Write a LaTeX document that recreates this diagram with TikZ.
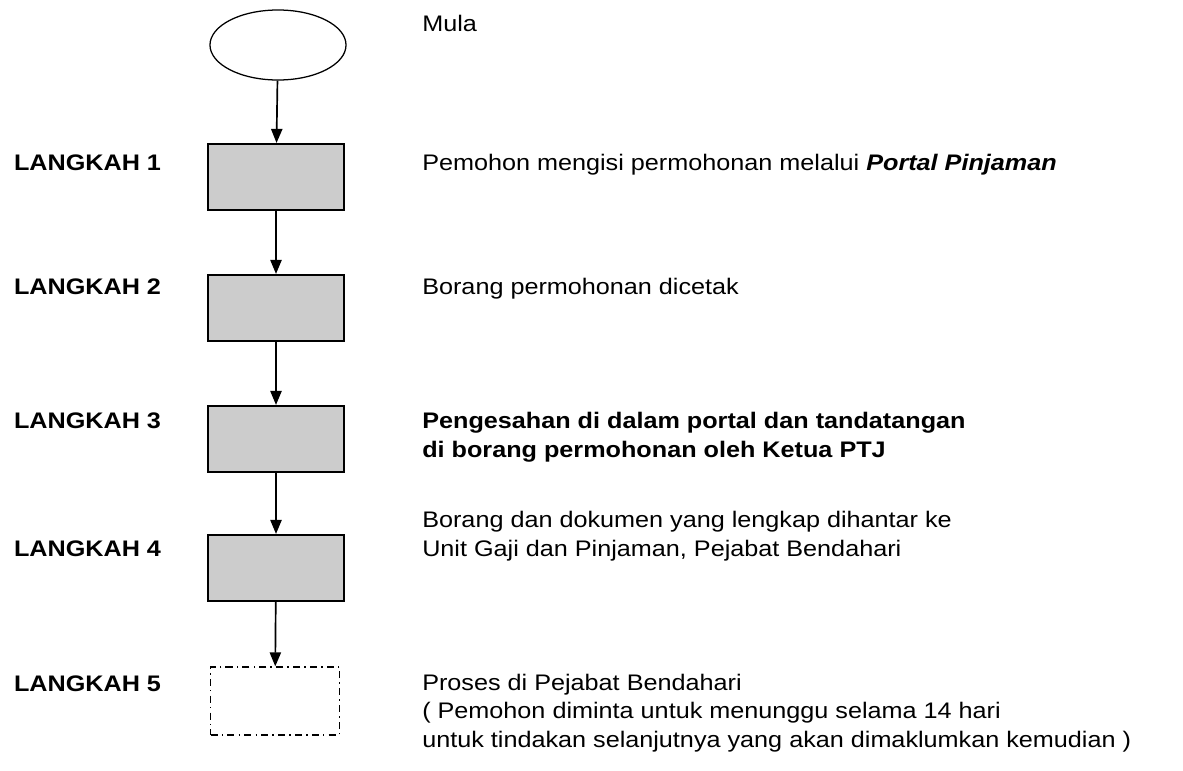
\documentclass[tikz,border=0pt]{standalone}
\usepackage{fontspec}
\setmainfont{Liberation Sans}[FakeStretch=1.12]
\usetikzlibrary{shapes.geometric,arrows.meta}
\begin{document}
\begin{tikzpicture}[x=0.025cm,y=-0.025cm,
		every node/.style={font=\fontsize{16}{20}\selectfont},
		stepbox/.style={draw,line width=1.5pt,fill=black!20,minimum width=3.42cm,minimum height=1.65cm,inner sep=0pt},
		endbox/.style={draw,line width=0.9pt,dash pattern=on 5pt off 3pt on 1pt off 3pt,minimum width=3.22cm,minimum height=1.7cm,inner sep=0pt},
		langkah/.style={anchor=base east,font=\fontsize{16}{20}\selectfont\bfseries},
		info/.style={anchor=base west,align=left,inner sep=0pt},
		flow/.style={-{Triangle[length=10pt,width=8pt]},line width=1.2pt}]
	\useasboundingbox (0,0) rectangle (1183,770);
	\node[draw,ellipse,line width=0.9pt,minimum width=3.4cm,minimum height=1.75cm] (start) at (278,45) {};
	\node[stepbox] (s1) at (276,177) {}; \node[stepbox] (s2) at (276,308) {};
	\node[stepbox] (s3) at (276,439) {}; \node[stepbox] (s4) at (276,568) {};
	\node[endbox] (s5) at (275,701) {};
	\draw[flow] (start)--(s1); \draw[flow] (s1)--(s2); \draw[flow] (s2)--(s3);
	\draw[flow] (s3)--(s4); \draw[flow] (s4)--(s5);
	\foreach \i/\y in {1/170,2/294,3/428,4/556,5/691}
		\node[langkah] (l\i) at (166,\y) {LANGKAH \i};
	% multi-line nodes: base is the last line
	\node[info] (t0) at (422,31) {Mula};
	\node[info] (t1) at (422,170) {Pemohon mengisi permohonan melalui \textbf{\textit{Portal Pinjaman}}};
	\node[info] (t2) at (422,294) {Borang permohonan dicetak};
	\node[info,font=\fontsize{16}{20}\selectfont\bfseries] (t3) at (422,457) {Pengesahan di dalam portal dan tandatangan\\di borang permohonan oleh Ketua PTJ};
	\node[info] (t4) at (422,556) {Borang dan dokumen yang lengkap dihantar ke\\Unit Gaji dan Pinjaman, Pejabat Bendahari};
	\node[info] (t5) at (422,747) {Proses di Pejabat Bendahari\\( Pemohon diminta untuk menunggu selama 14 hari\\untuk tindakan selanjutnya yang akan dimaklumkan kemudian )};
\end{tikzpicture}
\end{document}
